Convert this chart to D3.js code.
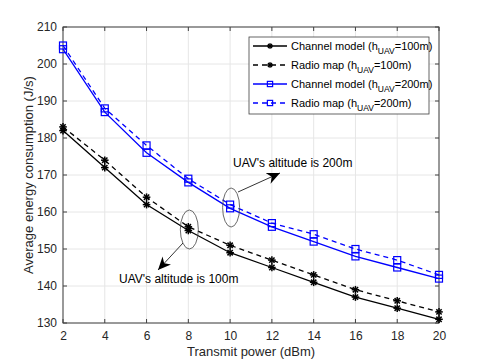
<!DOCTYPE html>
<html><head><meta charset="utf-8">
<script src="https://cdn.jsdelivr.net/npm/d3@7"></script>
<style>body{margin:0;background:#fff}svg{display:block}text{font-family:"Liberation Sans",Arial,sans-serif}</style>
</head><body><svg id="c" width="485" height="363"></svg>
<script>
const power = [2,4,6,8,10,12,14,16,18,20];
const channel100 = [182,172,162,155,149,145,141,137,134,131];
const radio100   = [183,174,164,156,151,147,143,139,136,133];
const channel200 = [204,187,176,168,161,156,152,148,145,142];
const radio200   = [205,188,178,169,162,157,154,150,147,143];
const xTicks = [2,4,6,8,10,12,14,16,18,20];
const yTicks = [130,140,150,160,170,180,190,200,210];
const seriesNames = ["Channel model (h","Radio map (h","Channel model (h","Radio map (h"];
const seriesSubs = ["=100m)","=100m)","=200m)","=200m)"];

const svg = d3.select("#c");
const L=63,R=439,T=27,B=323;
const x = d3.scaleLinear().domain([2,20]).range([L,R]);
const y = d3.scaleLinear().domain([130,210]).range([B,T]);

const g = svg.append("g");
g.selectAll(".gx").data(xTicks).join("line").attr("x1",d=>x(d)).attr("x2",d=>x(d)).attr("y1",T).attr("y2",B).attr("stroke","#e6e6e6").attr("stroke-width",1);
g.selectAll(".gy").data(yTicks).join("line").attr("y1",d=>y(d)).attr("y2",d=>y(d)).attr("x1",L).attr("x2",R).attr("stroke","#e6e6e6").attr("stroke-width",1);

const ax = svg.append("g").attr("transform",`translate(0,${B})`).call(d3.axisBottom(x).tickValues(xTicks).tickSize(0).tickPadding(8));
const ay = svg.append("g").attr("transform",`translate(${L},0)`).call(d3.axisLeft(y).tickValues(yTicks).tickSize(0).tickPadding(6));
[ax,ay].forEach(a=>{a.select(".domain").remove();a.selectAll("text").attr("font-size",12).attr("fill","#262626").attr("font-family","Liberation Sans, Arial, sans-serif");});
svg.append("g").selectAll("line").data(xTicks).join("line").attr("x1",d=>x(d)).attr("x2",d=>x(d)).attr("y1",B).attr("y2",B-4).attr("stroke","#404040");
svg.append("g").selectAll("line").data(xTicks).join("line").attr("x1",d=>x(d)).attr("x2",d=>x(d)).attr("y1",T).attr("y2",T+4).attr("stroke","#404040");
svg.append("g").selectAll("line").data(yTicks).join("line").attr("y1",d=>y(d)).attr("y2",d=>y(d)).attr("x1",L).attr("x2",L+4).attr("stroke","#404040");
svg.append("g").selectAll("line").data(yTicks).join("line").attr("y1",d=>y(d)).attr("y2",d=>y(d)).attr("x1",R).attr("x2",R-4).attr("stroke","#404040");
svg.append("rect").attr("x",L).attr("y",T).attr("width",R-L).attr("height",B-T).attr("fill","none").attr("stroke","#404040").attr("stroke-width",1);

svg.append("text").attr("x",(L+R)/2).attr("y",356).attr("text-anchor","middle").attr("font-size",13).attr("fill","#262626").text("Transmit power (dBm)");
svg.append("text").attr("transform",`translate(33,${(T+B)/2}) rotate(-90)`).attr("text-anchor","middle").attr("font-size",13).attr("fill","#262626").text("Average energy consumption (J/s)");

const series = [
 {v:channel100,c:"#000",dash:null,m:"star"},
 {v:radio100,c:"#000",dash:"5,4",m:"star"},
 {v:channel200,c:"#0000ff",dash:null,m:"sq"},
 {v:radio200,c:"#0000ff",dash:"5,4",m:"sq"}
];
const line = d3.line().x((d,i)=>x(power[i])).y(d=>y(d));
function marker(sel,type,cx,cy,c,k){
  k = k||1;
  if(type==="sq"){
    const h=3.5*k;
    sel.append("rect").attr("x",cx-h).attr("y",cy-h).attr("width",2*h).attr("height",2*h).attr("fill","none").attr("stroke",c).attr("stroke-width",1.2);
  } else {
    const r=3.8*k;
    const p = [[-r,0,r,0],[0,-r,0,r],[-r*0.7,-r*0.7,r*0.7,r*0.7],[-r*0.7,r*0.7,r*0.7,-r*0.7]];
    p.forEach(q=>sel.append("line").attr("x1",cx+q[0]).attr("y1",cy+q[1]).attr("x2",cx+q[2]).attr("y2",cy+q[3]).attr("stroke",c).attr("stroke-width",1.5));
  }
}
const plot = svg.append("g");
series.forEach(s=>{
  plot.append("path").attr("d",line(s.v)).attr("fill","none").attr("stroke",s.c).attr("stroke-width",1.3).attr("stroke-dasharray",s.dash);
  s.v.forEach((d,i)=>marker(plot,s.m,x(power[i]),y(d),s.c));
});

const ann = svg.append("g");
svg.append("defs").append("marker").attr("id","ah").attr("viewBox","0 0 10 10").attr("refX",10).attr("refY",5).attr("markerWidth",13).attr("markerHeight",13).attr("markerUnits","userSpaceOnUse").attr("orient","auto")
  .append("path").attr("d","M0,0.5 L10,5 L0,9.5 L3,5 Z").attr("fill","#000");
ann.append("ellipse").attr("cx",x(10)+1).attr("cy",207.5).attr("rx",8.5).attr("ry",19.5).attr("fill","none").attr("stroke","#444").attr("stroke-width",0.8);
ann.append("ellipse").attr("cx",x(8)+1).attr("cy",229.5).attr("rx",9).attr("ry",19.5).attr("fill","none").attr("stroke","#444").attr("stroke-width",0.8);
ann.append("line").attr("x1",238).attr("y1",192).attr("x2",280).attr("y2",173).attr("stroke","#000").attr("stroke-width",0.8).attr("marker-end","url(#ah)");
ann.append("line").attr("x1",183).attr("y1",243).attr("x2",158).attr("y2",270).attr("stroke","#000").attr("stroke-width",0.8).attr("marker-end","url(#ah)");
ann.append("text").attr("x",233).attr("y",167).attr("font-size",12).attr("fill","#000").text("UAV's altitude is 200m");
ann.append("text").attr("x",119).attr("y",283).attr("font-size",12).attr("fill","#000").text("UAV's altitude is 100m");

const lg = svg.append("g");
lg.append("rect").attr("x",249).attr("y",37).attr("width",180).attr("height",77).attr("fill","#fff").attr("stroke","#404040").attr("stroke-width",0.8);
series.forEach((s,i)=>{
  const yy = 46 + i*19;
  lg.append("line").attr("x1",253).attr("x2",287).attr("y1",yy).attr("y2",yy).attr("stroke",s.c).attr("stroke-width",1.3).attr("stroke-dasharray",s.dash);
  marker(lg,s.m,270,yy,s.c,0.75);
  const t = lg.append("text").attr("x",291).attr("y",yy+4).attr("font-size",11).attr("fill","#000");
  t.append("tspan").text(seriesNames[i]);
  t.append("tspan").attr("dy",4).attr("font-size",8.5).text("UAV");
  t.append("tspan").attr("dy",-4).text(seriesSubs[i]);
});
</script></body></html>
